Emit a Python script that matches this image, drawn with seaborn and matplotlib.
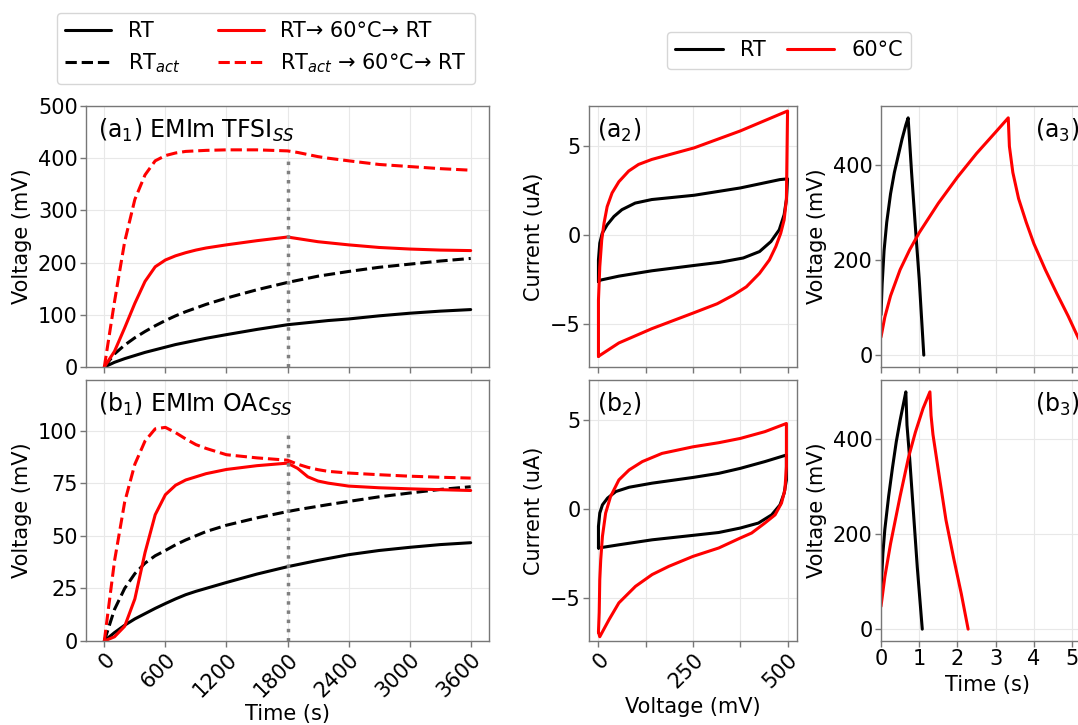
import matplotlib
matplotlib.use("Agg")
import matplotlib.pyplot as plt
from matplotlib.lines import Line2D
import seaborn as sns

# (a1)/(b1): voltage vs time, self-discharge tests
t_ss = [0, 100, 200, 300, 400, 500, 600, 700, 800, 900, 1000, 1200, 1500,
        1800, 1900, 2000, 2100, 2200, 2400, 2700, 3000, 3300, 3600]
a1_rt = [0, 9, 16, 22, 28, 33, 38, 43, 47, 51, 55, 62, 72,
         81, 83, 85, 87, 89, 92, 98, 103, 107, 110]
a1_rt_act = [0, 25, 42, 56, 68, 79, 89, 98, 106, 113, 120, 132, 148,
             162, 166, 170, 174, 177, 183, 191, 197, 203, 208]
a1_heat = [0, 30, 75, 122, 164, 192, 205, 213, 219, 224, 228, 234, 242,
           249, 246, 243, 240, 238, 234, 229, 226, 224, 223]
a1_heat_act = [0, 125, 240, 321, 368, 395, 405, 410, 413, 414, 415, 416, 416,
               414, 411, 407, 403, 400, 395, 388, 384, 380, 377]

b1_rt = [0, 4, 7.5, 10.5, 13, 15.5, 17.8, 20, 22, 23.6, 25, 27.8, 31.8,
         35.3, 36.3, 37.3, 38.3, 39.2, 41, 43, 44.5, 45.8, 46.7]
b1_rt_act = [0, 15, 25, 32, 37, 40.5, 43, 45.7, 48, 50, 52, 55, 58.5,
             61.5, 62.4, 63.2, 64, 64.8, 66.3, 68.5, 70.3, 72, 73.3]
b1_heat = [0, 2, 7, 20, 42, 60, 69.5, 74, 76.5, 78, 79.5, 81.5, 83.3,
           84.5, 82, 78, 76, 75, 73.6, 72.8, 72.3, 71.9, 71.5]
b1_heat_act = [0, 38, 66, 84, 95, 100.8, 101.5, 99, 96, 93.3, 91.5, 88.5, 87,
               85.9, 84, 82.5, 81.4, 80.6, 79.8, 79, 78.3, 77.8, 77.4]

# (a2)/(b2): cyclic voltammetry loops (forward sweep, then reverse)
a2_rt_v = [0, 0, 3.5, 10, 23, 41, 62, 97, 141, 253, 375, 480, 500,
           497, 491, 478, 456, 426, 383, 322, 253, 141, 54, 6, 0]
a2_rt_i = [-2.61, -1.39, -0.45, 0.11, 0.58, 1.05, 1.43, 1.8, 2.0, 2.24, 2.65, 3.12, 3.16,
           2.0, 1.15, 0.3, -0.36, -0.92, -1.28, -1.52, -1.7, -2.0, -2.3, -2.52, -2.61]
a2_60_v = [0, 0, 3.5, 8.7, 14.8, 23, 36, 54, 80, 106, 141, 184, 253, 375, 500,
           497, 491, 482, 469, 452, 426, 391, 357, 314, 253, 141, 54, 0]
a2_60_i = [-6.8, -3.65, -1.77, -0.26, 0.68, 1.6, 2.37, 3.0, 3.6, 3.97, 4.25, 4.5, 4.9, 5.85, 6.97,
           2.0, 0.86, 0.11, -0.64, -1.39, -2.14, -2.9, -3.36, -3.85, -4.35, -5.25, -6.05, -6.8]

b2_rt_v = [0, 0, 3.5, 10.5, 24, 46, 81, 142, 250, 318, 375, 440, 497,
           497, 491, 480, 458, 423, 375, 318, 250, 142, 54, 0]
b2_rt_i = [-2.18, -0.97, -0.22, 0.24, 0.62, 0.99, 1.23, 1.46, 1.78, 2.01, 2.29, 2.67, 3.04,
           1.64, 0.9, 0.24, -0.32, -0.78, -1.06, -1.31, -1.47, -1.72, -2.0, -2.18]
b2_60_v = [0, 2, 3.5, 6, 10.5, 19, 32, 54, 81, 116, 168, 250, 318, 375, 440, 497,
           497, 493, 484, 467, 440, 405, 375, 318, 250, 186, 142, 98, 54, 28, 3.5, 0]
b2_60_i = [-6.9, -5.8, -3.96, -2.84, -1.53, -0.22, 0.71, 1.64, 2.2, 2.67, 3.13, 3.5, 3.73, 3.97, 4.35, 4.81,
           2.39, 1.08, 0.34, -0.32, -0.78, -1.34, -1.62, -2.18, -2.65, -3.21, -3.67, -4.33, -5.26, -6.2, -7.16, -6.9]

# (a3)/(b3): galvanostatic charge/discharge
a3_rt_t = [0, 0.03, 0.08, 0.15, 0.25, 0.35, 0.45, 0.55, 0.65, 0.71,
           0.8, 0.9, 1.0, 1.12]
a3_rt_v = [85, 150, 220, 280, 340, 385, 420, 455, 485, 500,
           385, 270, 160, 0]
a3_60_t = [0, 0.1, 0.25, 0.5, 0.75, 1.0, 1.5, 2.0, 2.5, 3.0, 3.33,
           3.36, 3.45, 3.6, 3.8, 4.0, 4.3, 4.6, 4.9, 5.13, 5.38]
a3_60_v = [38, 80, 125, 180, 222, 258, 320, 375, 425, 470, 500,
           440, 385, 330, 280, 235, 180, 130, 82, 42, 0]

b3_rt_t = [0, 0.05, 0.1, 0.2, 0.3, 0.4, 0.5, 0.6, 0.65,
           0.68, 0.75, 0.85, 0.95, 1.08]
b3_rt_v = [83, 160, 210, 280, 340, 395, 440, 480, 500,
           430, 360, 245, 130, 0]
b3_60_t = [0, 0.1, 0.25, 0.5, 0.72, 0.9, 1.1, 1.28,
           1.31, 1.36, 1.5, 1.7, 1.9, 2.1, 2.28]
b3_60_v = [48, 110, 180, 280, 362, 415, 465, 500,
           450, 410, 335, 230, 150, 75, 0]

t_ticks = [0, 600, 1200, 1800, 2400, 3000, 3600]
cv_ticks = [0, 125, 250, 375, 500]
cv_labels = ["0", "", "250", "", "500"]
gcd_ticks = [0, 1, 2, 3, 4, 5]

sns.set_style("ticks")
plt.rcParams["font.family"] = ["DejaVu Sans"]
plt.rcParams["text.color"] = "black"
plt.rcParams["axes.labelcolor"] = "black"
plt.rcParams["xtick.labelcolor"] = "black"
plt.rcParams["ytick.labelcolor"] = "black"

W, H = 1078, 725
fig = plt.figure(figsize=(W / 100, H / 100), dpi=100)


def rect(l, t, r, b):
    return [l / W, 1 - b / H, (r - l) / W, (b - t) / H]


ax_a1 = fig.add_axes(rect(86, 106, 489, 367))
ax_b1 = fig.add_axes(rect(86, 380, 489, 641))
ax_a2 = fig.add_axes(rect(589, 106, 797, 367))
ax_b2 = fig.add_axes(rect(589, 380, 797, 641))
ax_a3 = fig.add_axes(rect(881, 106, 1095, 367))
ax_b3 = fig.add_axes(rect(881, 380, 1095, 641))

LW = 2.2
FS = 15


def line(ax, x, y, color, ls="-"):
    sns.lineplot(x=x, y=y, ax=ax, color=color, linestyle=ls, lw=LW,
                 sort=False, estimator=None)


for ax, rt, rt_act, heat, heat_act in [
        (ax_a1, a1_rt, a1_rt_act, a1_heat, a1_heat_act),
        (ax_b1, b1_rt, b1_rt_act, b1_heat, b1_heat_act)]:
    line(ax, t_ss, rt, "black")
    line(ax, t_ss, rt_act, "black", "--")
    line(ax, t_ss, heat, "red")
    line(ax, t_ss, heat_act, "red", "--")
    ax.axvline(1800, ymax=0.8, color="gray", ls=":", lw=2.5)
    ax.set_xlim(-180, 3780)
    ax.set_xticks(t_ticks)
    ax.set_ylabel("Voltage (mV)", fontsize=FS)

ax_a1.set_ylim(0, 500)
ax_b1.set_ylim(0, 124)
ax_b1.set_yticks([0, 25, 50, 75, 100])

line(ax_a2, a2_rt_v, a2_rt_i, "black")
line(ax_a2, a2_60_v, a2_60_i, "red")
line(ax_b2, b2_rt_v, b2_rt_i, "black")
line(ax_b2, b2_60_v, b2_60_i, "red")
for ax in (ax_a2, ax_b2):
    ax.set_xlim(-25, 525)
    ax.set_ylim(-7.4, 7.25)
    ax.set_xticks(cv_ticks)
    ax.set_yticks([-5, 0, 5])
    ax.set_ylabel("Current (uA)", fontsize=FS)

line(ax_a3, a3_rt_t, a3_rt_v, "black")
line(ax_a3, a3_60_t, a3_60_v, "red")
line(ax_b3, b3_rt_t, b3_rt_v, "black")
line(ax_b3, b3_60_t, b3_60_v, "red")
for ax in (ax_a3, ax_b3):
    ax.set_xlim(0, 5.6)
    ax.set_ylim(-25, 525)
    ax.set_xticks(gcd_ticks)
    ax.set_yticks([0, 200, 400])
    ax.set_ylabel("Voltage (mV)", fontsize=FS)

for ax in (ax_a1, ax_a2, ax_a3):
    ax.set_xticklabels([])
    ax.set_xlabel("")

ax_b1.set_xticklabels([str(t) for t in t_ticks], rotation=45, ha="right",
                      rotation_mode="anchor")
ax_b1.set_xlabel("Time (s)", fontsize=FS, labelpad=2)
ax_b2.set_xticklabels(cv_labels, rotation=45, ha="right", rotation_mode="anchor")
ax_b2.set_xlabel("Voltage (mV)", fontsize=FS, labelpad=4)
ax_b3.set_xlabel("Time (s)", fontsize=FS, labelpad=4)

for ax in (ax_a1, ax_b1, ax_a2, ax_b2, ax_a3, ax_b3):
    ax.grid(True, color="#e8e8e8", lw=0.8)
    ax.set_axisbelow(True)
    for sp in ax.spines.values():
        sp.set_color("#777777")
        sp.set_linewidth(1.0)
    ax.tick_params(labelsize=FS, length=4, width=1, color="#777777", pad=2)

TS = 17
ax_a1.text(0.03, 0.96, "(a$_1$) EMIm TFSI$_{SS}$", transform=ax_a1.transAxes,
           fontsize=TS, va="top")
ax_b1.text(0.03, 0.96, "(b$_1$) EMIm OAc$_{SS}$", transform=ax_b1.transAxes,
           fontsize=TS, va="top")
ax_a2.text(0.04, 0.96, "(a$_2$)", transform=ax_a2.transAxes, fontsize=TS, va="top")
ax_b2.text(0.04, 0.96, "(b$_2$)", transform=ax_b2.transAxes, fontsize=TS, va="top")
ax_a3.text(0.72, 0.96, "(a$_3$)", transform=ax_a3.transAxes, fontsize=TS, va="top")
ax_b3.text(0.72, 0.96, "(b$_3$)", transform=ax_b3.transAxes, fontsize=TS, va="top")

h_left = [Line2D([], [], color="black", lw=LW),
          Line2D([], [], color="black", lw=LW, ls="--"),
          Line2D([], [], color="red", lw=LW),
          Line2D([], [], color="red", lw=LW, ls="--")]
l_left = ["RT", "RT$_{act}$", "RT→ 60°C→ RT", "RT$_{act}$ → 60°C→ RT"]
fig.legend(h_left, l_left, loc="upper left", bbox_to_anchor=(57 / W, 1 - 13 / H),
           ncol=2, fontsize=FS, handlelength=2.2, handletextpad=0.8,
           columnspacing=1.8, borderaxespad=0, frameon=True)

h_right = [Line2D([], [], color="black", lw=LW), Line2D([], [], color="red", lw=LW)]
fig.legend(h_right, ["RT", "60°C"], loc="upper left",
           bbox_to_anchor=(667 / W, 1 - 32 / H), ncol=2, fontsize=FS,
           handlelength=2.3, handletextpad=0.8, columnspacing=1.0,
           borderaxespad=0, frameon=True)

fig.savefig("out.png", dpi=100)
